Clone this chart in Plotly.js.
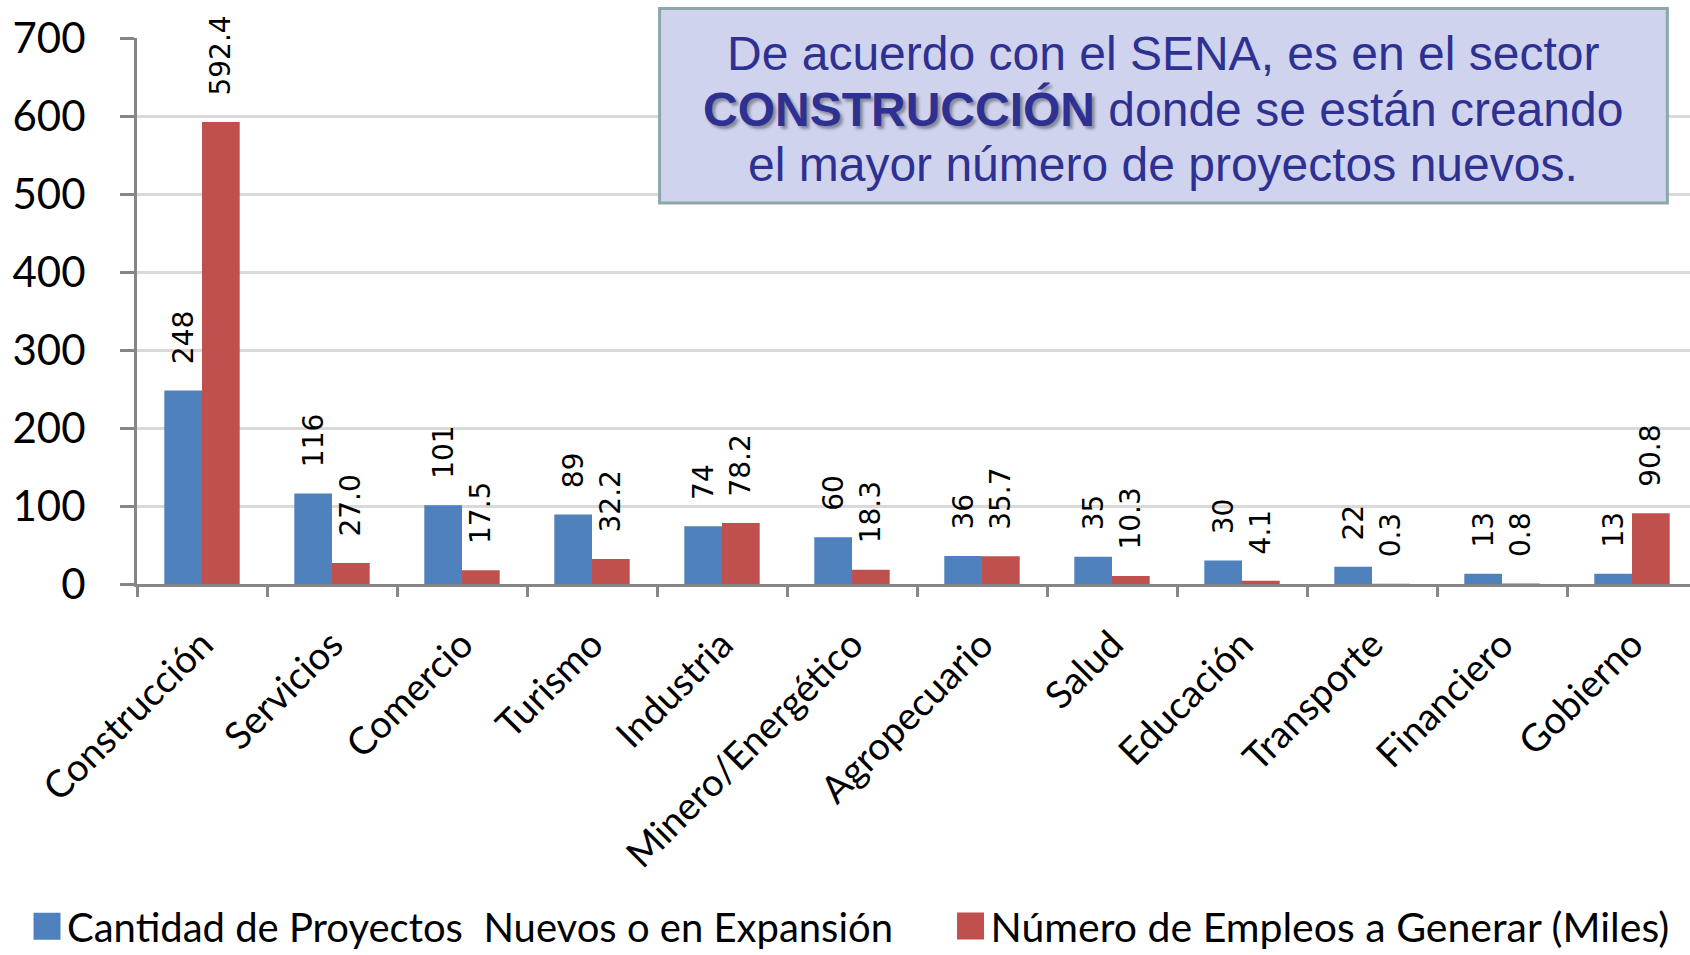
<!DOCTYPE html>
<html>
<head>
<meta charset="utf-8">
<script src="https://cdn.plot.ly/plotly-3.0.1.min.js"></script>
<style>
  html, body { margin: 0; padding: 0; background: #fff; overflow: hidden; }
  #chart { width: 1700px; height: 955px; }
</style>
</head>
<body>
<div id="chart"></div>
<script>
const categories = ["Construcción", "Servicios", "Comercio", "Turismo", "Industria", "Minero/Energético",
  "Agropecuario", "Salud", "Educación", "Transporte", "Financiero", "Gobierno"];
const proyectos = [248, 116, 101, 89, 74, 60, 36, 35, 30, 22, 13, 13];
const empleos = [592.4, 27.0, 17.5, 32.2, 78.2, 18.3, 35.7, 10.3, 4.1, 0.3, 0.8, 90.8];
const seriesNames = ["Cantidad de Proyectos  Nuevos o en Expansión", "Número de Empleos a Generar (Miles)"];
const yTicks = [0, 100, 200, 300, 400, 500, 600, 700];
const noteLines = [
  "De acuerdo con el SENA, es en el sector",
  "<b>CONSTRUCCIÓN</b> donde se están creando",
  "el mayor número de proyectos nuevos."
];

const pad = "\u00a0\u00a0\u2009";
const labelFont = { family: "DejaVu Sans", size: 28, color: "#000" };

const traces = [
  {
    type: "bar", name: seriesNames[0], x: categories, y: proyectos, legend: "legend",
    marker: { color: "#4F81BD", line: { width: 0 } },
    texttemplate: pad + "%{y:.0f}", textposition: "outside", textangle: -90,
    textfont: labelFont, constraintext: "none", cliponaxis: false, hoverinfo: "skip"
  },
  {
    type: "bar", name: seriesNames[1], x: categories, y: empleos, legend: "legend2",
    marker: { color: "#C0504D", line: { width: 0 } },
    texttemplate: pad + "%{y:.1f}", textposition: "outside", textangle: -90,
    textfont: labelFont, constraintext: "none", cliponaxis: false, hoverinfo: "skip"
  }
];

const boxFont = { family: "Liberation Sans, Arial, sans-serif", size: 48, color: "#2E3192" };
const lineY = [0.9707, 0.870, 0.769];
const annotations = noteLines.map((t, i) => ({
  xref: "paper", yref: "paper", x: 0.658, y: lineY[i], xanchor: "center", yanchor: "middle",
  text: t, showarrow: false, font: boxFont
}));

const legendFont = { family: "Lato", size: 40, color: "#000" };

const layout = {
  width: 1700, height: 955,
  margin: { l: 137, r: 3, t: 38, b: 371, autoexpand: false },
  paper_bgcolor: "#fff", plot_bgcolor: "#fff",
  barmode: "group", bargap: 0.42, bargroupgap: 0,
  showlegend: true,
  legend: {
    orientation: "h", x: -0.0705, xanchor: "left", y: -0.627, yanchor: "middle",
    font: legendFont, bgcolor: "rgba(0,0,0,0)"
  },
  legend2: {
    orientation: "h", x: 0.5215, xanchor: "left", y: -0.627, yanchor: "middle",
    font: Object.assign({}, legendFont, { size: 41 }), bgcolor: "rgba(0,0,0,0)"
  },
  xaxis: {
    type: "category", tickangle: -45, automargin: false,
    tickfont: { family: "Lato", size: 38, color: "#000" },
    showline: true, linecolor: "#868686", linewidth: 3,
    ticks: "outside", tickson: "boundaries", ticklen: 10, tickwidth: 3, tickcolor: "#868686",
    showgrid: false, zeroline: false, ticklabelstandoff: 20
  },
  yaxis: {
    range: [0, 700], tickvals: yTicks, ticktext: yTicks.map(String), automargin: false,
    tickfont: { family: "Lato", size: 42, color: "#000" },
    showline: true, linecolor: "#868686", linewidth: 3,
    ticks: "outside", ticklen: 14, tickwidth: 3, tickcolor: "#868686",
    showgrid: true, gridcolor: "#D9D9D9", gridwidth: 3, zeroline: false,
    ticklabelstandoff: 26
  },
  shapes: [{
    type: "rect", xref: "paper", yref: "paper", x0: 0.335, x1: 0.981, y0: 0.698, y1: 1.054,
    fillcolor: "#D0D3EE", line: { color: "#8BA7A8", width: 3 }, layer: "above"
  }],
  annotations: annotations
};

Plotly.newPlot("chart", traces, layout, { staticPlot: true, displayModeBar: false }).then(gd => {
  document.querySelectorAll(".legendpoints path").forEach(p => {
    p.setAttribute("transform", (p.getAttribute("transform") || "") + " scale(2.25)");
  });
  document.querySelectorAll(".annotation-text tspan").forEach(t => {
    if ((t.getAttribute("style") || "").indexOf("bold") >= 0) {
      t.style.textShadow = "3px 3px 3px rgba(0,0,0,0.35)";
    }
  });
});
</script>
</body>
</html>
